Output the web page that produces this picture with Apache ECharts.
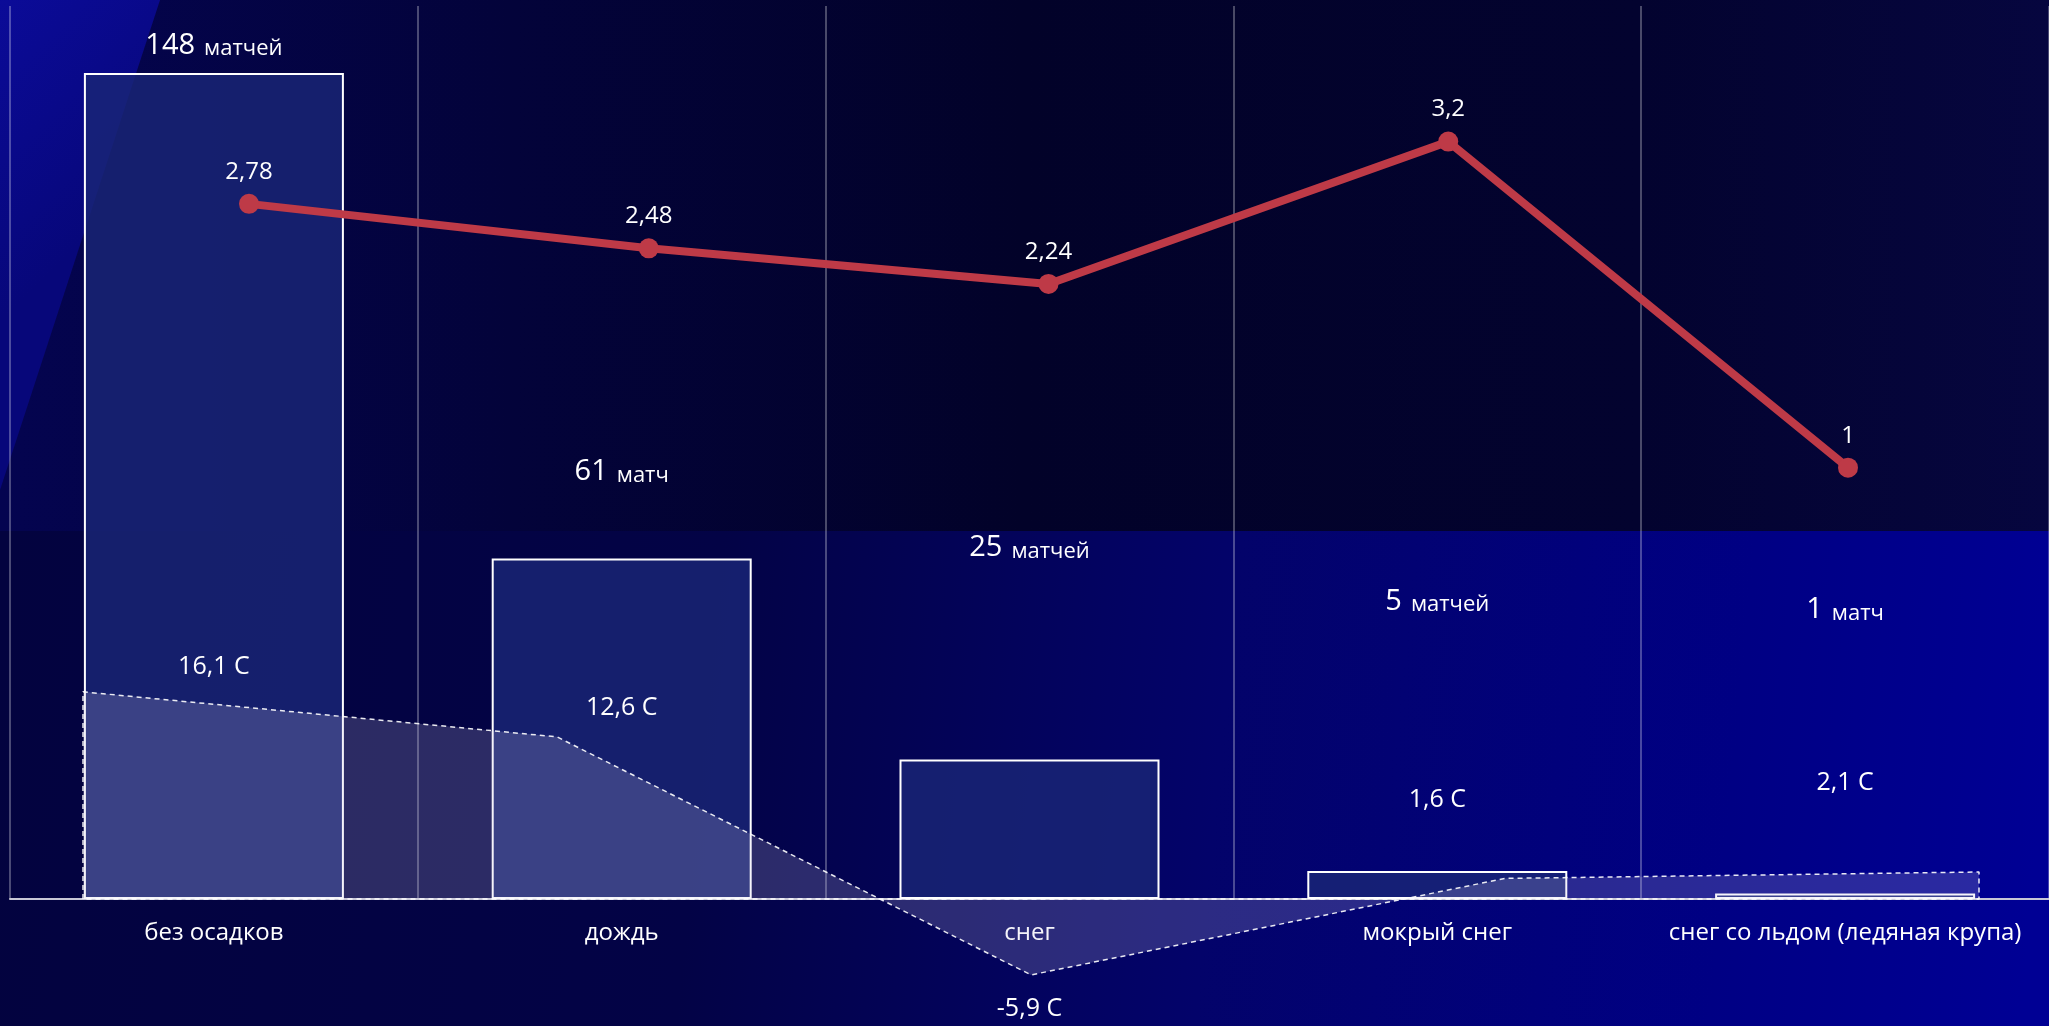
<!DOCTYPE html>
<html>
<head>
<meta charset="utf-8">
<script src="https://cdn.jsdelivr.net/npm/echarts@6/dist/echarts.min.js"></script>
<style>
  html, body { margin: 0; padding: 0; background: #02022e; }
  #chart { width: 2049px; height: 1026px; }
</style>
</head>
<body>
<div id="chart"></div>
<script>
// ---- data ----
const categories = ['без осадков', 'дождь', 'снег', 'мокрый снег', 'снег со льдом (ледяная крупа)'];
const matchCounts = [148, 61, 25, 5, 1];
const matchUnits = ['матчей', 'матч', 'матчей', 'матчей', 'матч'];
const avgGoals = [2.78, 2.48, 2.24, 3.2, 1];
const avgTemps = [16.1, 12.6, -5.9, 1.6, 2.1];

// ---- layout nudges for labels (px) ----
const countLabelShift = [0, -59, -184, -242, -256];
const tempLabelShift = [-25, -29, 34, -79, -89];

const FONT = 'Open Sans';
const fmt = v => String(v).replace('.', ',');

// closed outline of the temperature area, built from avgTemps
const tempPolygon = [[0, 0]]
  .concat(avgTemps.map((t, i) => [i, t]))
  .concat([[avgTemps.length - 1, 0], [0, 0]]);

const G = echarts.graphic;
const chart = echarts.init(document.getElementById('chart'), null, { renderer: 'canvas' });

const option = {
  backgroundColor: '#02022e',
  animation: false,
  graphic: [
    { type: 'rect', z: -100, silent: true, shape: { x: 0, y: 0, width: 2049, height: 1026 },
      style: { fill: new G.LinearGradient(0, 0, 1, 0, [
        { offset: 0, color: '#040450' }, { offset: 0.25, color: '#03033a' },
        { offset: 0.5, color: '#020229' }, { offset: 0.8, color: '#03032f' }, { offset: 1, color: '#06063f' }]) } },
    { type: 'rect', z: -99, silent: true, shape: { x: 0, y: 531, width: 2049, height: 495 },
      style: { fill: new G.LinearGradient(0, 0, 1, 0.4, [
        { offset: 0, color: '#03033f' }, { offset: 0.35, color: '#030346' },
        { offset: 0.6, color: '#03036a' }, { offset: 0.85, color: '#000084' }, { offset: 1, color: '#000094' }]) } },
    { type: 'polygon', z: -98, silent: true, shape: { points: [[0, 0], [160, 0], [0, 490]] },
      style: { fill: new G.LinearGradient(0, 0, 1, 0.35, [
        { offset: 0, color: '#0b0b98' }, { offset: 1, color: '#07077a' }]) } }
  ],
  grid: [
    { left: 10, right: 0, top: 6, bottom: 127 },
    { left: 83, right: 70, top: 6, bottom: 127 },
    { left: 249, right: 201, top: 6, bottom: 127 }
  ],
  xAxis: [
    { gridIndex: 0, type: 'category', data: categories, boundaryGap: true,
      axisLine: { show: true, lineStyle: { color: '#c8c8d6', width: 2 } },
      axisTick: { show: false },
      axisLabel: { color: '#ffffff', fontSize: 24, fontFamily: FONT, margin: 22, interval: 0 },
      splitLine: { show: true, lineStyle: { color: 'rgba(255,255,255,0.38)', width: 1.5 } } },
    { gridIndex: 1, type: 'value', min: 0, max: avgTemps.length - 1, show: false },
    { gridIndex: 2, type: 'category', data: categories, boundaryGap: false, show: false }
  ],
  yAxis: [
    { gridIndex: 0, type: 'value', min: 0, max: 160, show: false },
    { gridIndex: 0, type: 'value', min: 0, max: 69.4, show: false },
    { gridIndex: 1, type: 'value', min: 0, max: 69.4, show: false },
    { gridIndex: 2, type: 'value', min: -1.91, max: 4.115, show: false }
  ],
  series: [
    {
      name: 'матчи', type: 'bar', xAxisIndex: 0, yAxisIndex: 0, z: 2,
      barWidth: 260,
      data: matchCounts.map((v, i) => ({ value: v, label: { offset: [0, countLabelShift[i]] } })),
      itemStyle: { color: 'rgba(26,38,118,0.82)', borderColor: '#ffffff', borderWidth: 2 },
      label: {
        show: true, position: 'top', distance: 13,
        formatter: p => '{a|' + p.value + '}{b|' + matchUnits[p.dataIndex] + '}',
        rich: {
          a: { color: '#fff', fontSize: 29, fontFamily: FONT, fontWeight: 500, verticalAlign: 'bottom' },
          b: { color: '#fff', fontSize: 22, fontFamily: FONT, verticalAlign: 'bottom', padding: [0, 0, 0, 9] }
        }
      }
    },
    {
      name: 'температура', type: 'line', xAxisIndex: 1, yAxisIndex: 2, z: 3,
      clip: false, symbol: 'none', silent: true,
      data: tempPolygon,
      lineStyle: { color: 'rgba(255,255,255,0.9)', width: 1.5, type: [5, 4] },
      areaStyle: { color: 'rgba(205,203,232,0.29)' }
    },
    {
      name: 'температура-подписи', type: 'scatter', xAxisIndex: 0, yAxisIndex: 1, z: 5,
      clip: false, symbolSize: 0, silent: true,
      itemStyle: { opacity: 1 },
      data: avgTemps.map((v, i) => ({ value: v, label: { offset: [0, tempLabelShift[i]] } })),
      label: {
        show: true, position: 'inside', color: '#fff', fontSize: 25, fontFamily: FONT, fontWeight: 500,
        formatter: p => fmt(p.value) + ' C'
      }
    },
    {
      name: 'голы', type: 'line', xAxisIndex: 2, yAxisIndex: 3, z: 4,
      data: avgGoals, symbol: 'circle', symbolSize: 20,
      lineStyle: { color: '#BE3A47', width: 8 },
      itemStyle: { color: '#BE3A47' },
      label: {
        show: true, position: 'top', distance: 10, color: '#fff', fontSize: 24, fontFamily: FONT, fontWeight: 500,
        formatter: p => fmt(p.value)
      }
    }
  ]
};
chart.setOption(option);
</script>
</body>
</html>
